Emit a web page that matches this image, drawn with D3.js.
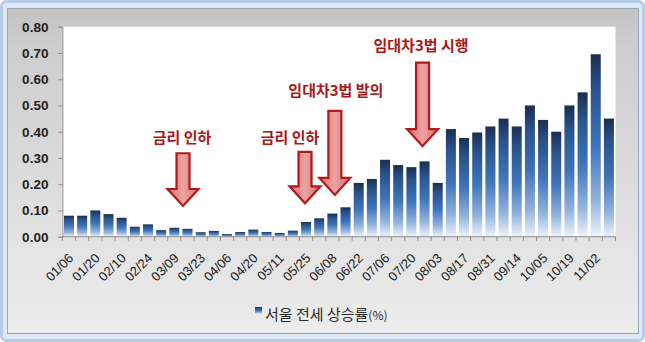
<!DOCTYPE html>
<html>
<head>
<meta charset="utf-8">
<script src="https://cdn.jsdelivr.net/npm/d3@7"></script>
<style>
  body { margin: 0; background: #fff; }
  svg { display: block; }
</style>
</head>
<body>
<div id="chart"></div>
<script>
// weekly categories (every other one is labelled on the axis)
const weeks = ["01/06","01/13","01/20","02/03","02/10","02/17","02/24","03/02","03/09","03/16",
  "03/23","03/30","04/06","04/13","04/20","05/04","05/11","05/18","05/25","06/01",
  "06/08","06/15","06/22","06/29","07/06","07/13","07/20","07/27","08/03","08/10",
  "08/17","08/24","08/31","09/07","09/14","09/21","10/05","10/12","10/19","10/26",
  "11/02","11/09"];

// 서울 전세 상승률 (%)
const rates = [0.08,0.08,0.10,0.086,0.072,0.038,0.047,0.025,0.034,0.030,
  0.017,0.022,0.010,0.018,0.027,0.018,0.014,0.023,0.056,0.070,
  0.088,0.112,0.205,0.220,0.293,0.273,0.265,0.287,0.205,0.410,
  0.376,0.397,0.420,0.450,0.420,0.500,0.445,0.400,0.500,0.550,
  0.695,0.450];

const yTicks = [0, 0.1, 0.2, 0.3, 0.4, 0.5, 0.6, 0.7, 0.8];
const labelWeeks = weeks.filter((d, i) => i % 2 === 0);
const seriesName = "서울 전세 상승률";

// annotations: text, week the arrow points at, arrow top / tip and text baseline (in % units)
const noteTexts = ["금리 인하", "금리 인하", "임대차3법 발의", "임대차3법 시행"];
const noteWeeks = ["03/16", "05/25", "06/08", "07/27"];
const noteTop   = [0.318, 0.323, 0.479, 0.663];
const noteTip   = [0.117, 0.127, 0.159, 0.345];
const noteText  = [0.356, 0.356, 0.535, 0.706];

const data = weeks.map((w, i) => ({week: w, value: rates[i]}));

const width = 645;
const height = 342;
const margin = {top: 26.7, right: 29.5, bottom: 105.3, left: 62.4};

const svg = d3.select("#chart")
  .append("svg")
  .attr("width", width)
  .attr("height", height);

const defs = svg.append("defs");

const panelGrad = defs.append("linearGradient")
  .attr("id", "panel").attr("x1", 0).attr("y1", 0).attr("x2", 0).attr("y2", 1);
panelGrad.append("stop").attr("offset", "0%").attr("stop-color", "#c3c3c3");
panelGrad.append("stop").attr("offset", "12%").attr("stop-color", "#cdcdcd");
panelGrad.append("stop").attr("offset", "100%").attr("stop-color", "#ededed");

const barGrad = defs.append("linearGradient")
  .attr("id", "bar").attr("x1", 0).attr("y1", 0).attr("x2", 0).attr("y2", 1);
barGrad.append("stop").attr("offset", "0%").attr("stop-color", "#1a2e4f");
barGrad.append("stop").attr("offset", "18%").attr("stop-color", "#2a5189");
barGrad.append("stop").attr("offset", "50%").attr("stop-color", "#3f74bb");
barGrad.append("stop").attr("offset", "80%").attr("stop-color", "#93b3dd");
barGrad.append("stop").attr("offset", "100%").attr("stop-color", "#eef3fa");

const arrowGrad = defs.append("linearGradient")
  .attr("id", "arrow").attr("x1", 0).attr("y1", 0).attr("x2", 1).attr("y2", 0);
arrowGrad.append("stop").attr("offset", "0%").attr("stop-color", "#d66e6e");
arrowGrad.append("stop").attr("offset", "50%").attr("stop-color", "#eda3a3");
arrowGrad.append("stop").attr("offset", "100%").attr("stop-color", "#d66e6e");

// outer frame + gray panel
svg.append("rect")
  .attr("x", 1.5).attr("y", 1.5).attr("width", width - 3).attr("height", height - 3)
  .attr("rx", 5)
  .attr("fill", "#dfe9f6").attr("stroke", "#b6cbe6").attr("stroke-width", 3);

svg.append("rect")
  .attr("x", 7.5).attr("y", 8.5).attr("width", 631).attr("height", 325)
  .attr("fill", "url(#panel)").attr("stroke", "#9ca6b2");

// plot area
svg.append("rect")
  .attr("x", margin.left).attr("y", margin.top)
  .attr("width", width - margin.left - margin.right)
  .attr("height", height - margin.top - margin.bottom)
  .attr("fill", "#fff");

const x = d3.scaleBand()
  .domain(weeks)
  .range([margin.left, width - margin.right])
  .paddingInner(0.24)
  .paddingOuter(0.12);

const y = d3.scaleLinear()
  .domain([0, 0.8])
  .range([height - margin.bottom, margin.top]);

// bars
svg.append("g")
  .selectAll("rect")
  .data(data)
  .join("rect")
  .attr("x", d => x(d.week))
  .attr("y", d => y(d.value))
  .attr("width", x.bandwidth())
  .attr("height", d => y(0) - y(d.value))
  .attr("fill", "url(#bar)");

// y axis
const yAxis = svg.append("g")
  .attr("transform", `translate(${margin.left},0)`)
  .call(d3.axisLeft(y).tickValues(yTicks).tickFormat(d3.format(".2f")).tickSize(4).tickPadding(10));
yAxis.select(".domain").attr("stroke", "#8c8c8c");
yAxis.selectAll(".tick line").attr("stroke", "#8c8c8c");
yAxis.selectAll("text")
  .style("font-family", "'Liberation Sans', Arial, sans-serif")
  .style("font-size", "13.5px")
  .style("font-weight", "bold")
  .attr("fill", "#222");

// x axis: line + ticks between bars
const axisY = y(0);
const gx = svg.append("g");
gx.append("line")
  .attr("x1", margin.left).attr("x2", width - margin.right)
  .attr("y1", axisY).attr("y2", axisY)
  .attr("stroke", "#8c8c8c");
const edges = weeks.map(w => x(w) - x.step() * x.paddingInner() / 2)
  .concat([width - margin.right]);
gx.selectAll(".edge")
  .data(edges)
  .join("line")
  .attr("class", "edge")
  .attr("x1", d => d).attr("x2", d => d)
  .attr("y1", axisY).attr("y2", axisY + 4)
  .attr("stroke", "#8c8c8c");

const xLabels = svg.append("g")
  .attr("transform", `translate(0,${axisY})`)
  .call(d3.axisBottom(x).tickValues(labelWeeks).tickSize(0));
xLabels.select(".domain").remove();
xLabels.selectAll("text")
  .attr("x", 0).attr("y", 0).attr("dy", "0.35em")
  .attr("text-anchor", "end")
  .attr("transform", "translate(2,19) rotate(-45)")
  .style("font-family", "'Liberation Sans', Arial, sans-serif")
  .style("font-size", "13px")
  .attr("fill", "#1a1a1a");

// annotations
const notes = svg.append("g");
noteTexts.forEach((t, i) => {
  const cx = x(noteWeeks[i]) + x.bandwidth() / 2 + [-4.5, -1, 2.5, -2][i];
  const top = y(noteTop[i]);
  const tip = y(noteTip[i]);
  const hw = 6.5, hh = 15.5, hl = 17;
  const path = d3.path();
  path.moveTo(cx - hw, top);
  path.lineTo(cx + hw, top);
  path.lineTo(cx + hw, tip - hl);
  path.lineTo(cx + hh, tip - hl);
  path.lineTo(cx, tip);
  path.lineTo(cx - hh, tip - hl);
  path.lineTo(cx - hw, tip - hl);
  path.closePath();
  notes.append("path")
    .attr("d", path.toString())
    .attr("fill", "url(#arrow)")
    .attr("stroke", "#b01a1a")
    .attr("stroke-width", 2.2)
    .attr("stroke-linejoin", "miter");
  notes.append("text")
    .attr("x", cx + [-1, -15, 1, -1.5][i])
    .attr("y", y(noteText[i]))
    .attr("text-anchor", "middle")
    .style("font-family", "'Noto Sans CJK KR', sans-serif")
    .style("font-size", "15px")
    .style("font-weight", "bold")
    .attr("fill", "#a81818")
    .text(t);
});

// legend
const legend = svg.append("g").attr("transform", "translate(255,307)");
legend.append("rect")
  .attr("width", 7).attr("height", 7)
  .attr("fill", "url(#bar)");
const lt = legend.append("text")
  .attr("x", 10).attr("y", 12.5)
  .style("font-family", "'Noto Sans CJK KR', sans-serif")
  .style("font-size", "15px")
  .attr("fill", "#2a2a2a");
lt.append("tspan").text(seriesName);
lt.append("tspan").style("font-size", "12px").text("(%)");
</script>
</body>
</html>
